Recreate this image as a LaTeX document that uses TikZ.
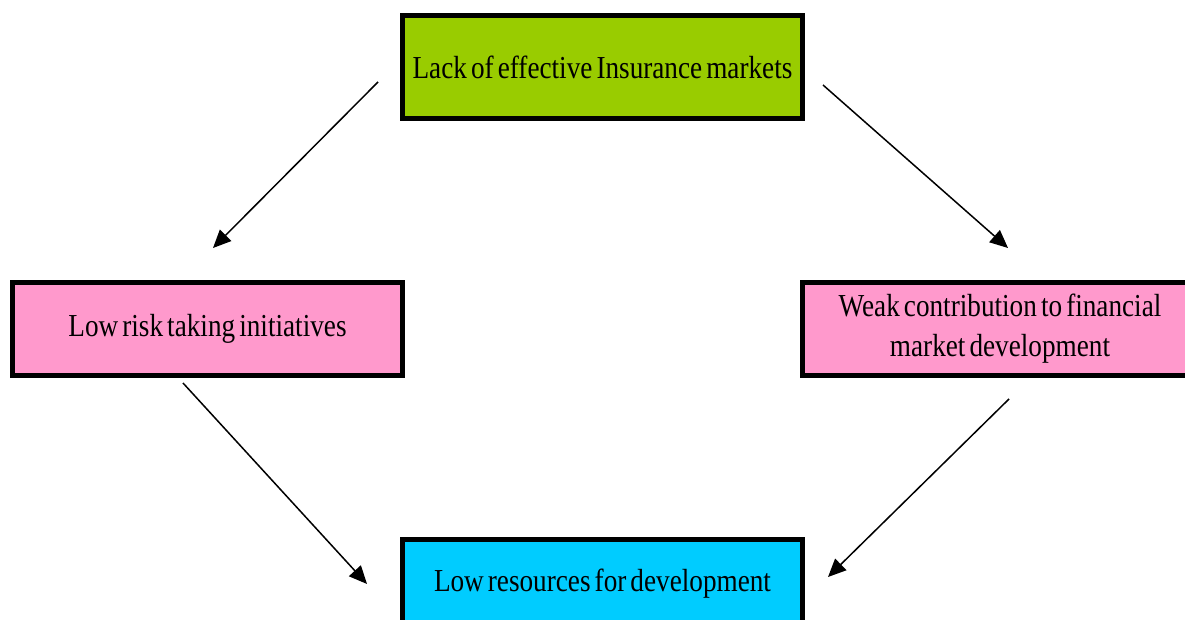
\documentclass[tikz,border=0pt]{standalone}
\usepackage{fontspec}
\setmainfont{Liberation Serif}[FakeStretch=0.85,WordSpace=0.6]
\usetikzlibrary{arrows.meta}
\definecolor{boxgreen}{HTML}{99CC00}
\definecolor{boxpink}{HTML}{FF99CC}
\definecolor{boxcyan}{HTML}{00CCFF}
\begin{document}
\begin{tikzpicture}[x=1pt,y=-1pt,
  box/.style={draw=black, line width=5pt, rectangle, inner sep=0pt,
    align=center, font=\fontsize{32}{40}\selectfont},
  link/.style={line width=1.5pt, -{Triangle[length=18pt,width=16pt]}}]
  \useasboundingbox (0,0) rectangle (1185,620);

  % boxes
  \node[box, fill=boxgreen, minimum width=400pt, minimum height=103pt]
    (insurance) at (602.5,67) {Lack of effective Insurance markets};
  \node[box, fill=boxpink, minimum width=390pt, minimum height=93pt]
    (risk) at (207.5,329) {Low risk taking initiatives};
  \node[box, fill=boxpink, minimum width=395pt, minimum height=93pt]
    (finance) at (1000,329) {Weak contribution to financial\\market development};
  \node[box, fill=boxcyan, minimum width=400pt, minimum height=88pt]
    (resources) at (602.5,583.5) {Low resources for development};

  % connector end points
  \coordinate (ins-l) at (378,82);
  \coordinate (risk-t) at (213,248);
  \coordinate (ins-r) at (823,85);
  \coordinate (fin-t) at (1008,248);
  \coordinate (risk-b) at (183,383);
  \coordinate (res-l) at (367,584);
  \coordinate (fin-b) at (1009,399);
  \coordinate (res-r) at (828,577);

  % connectors
  \draw[link] (ins-l) -- (risk-t);
  \draw[link] (ins-r) -- (fin-t);
  \draw[link] (risk-b) -- (res-l);
  \draw[link] (fin-b) -- (res-r);
\end{tikzpicture}
\end{document}
